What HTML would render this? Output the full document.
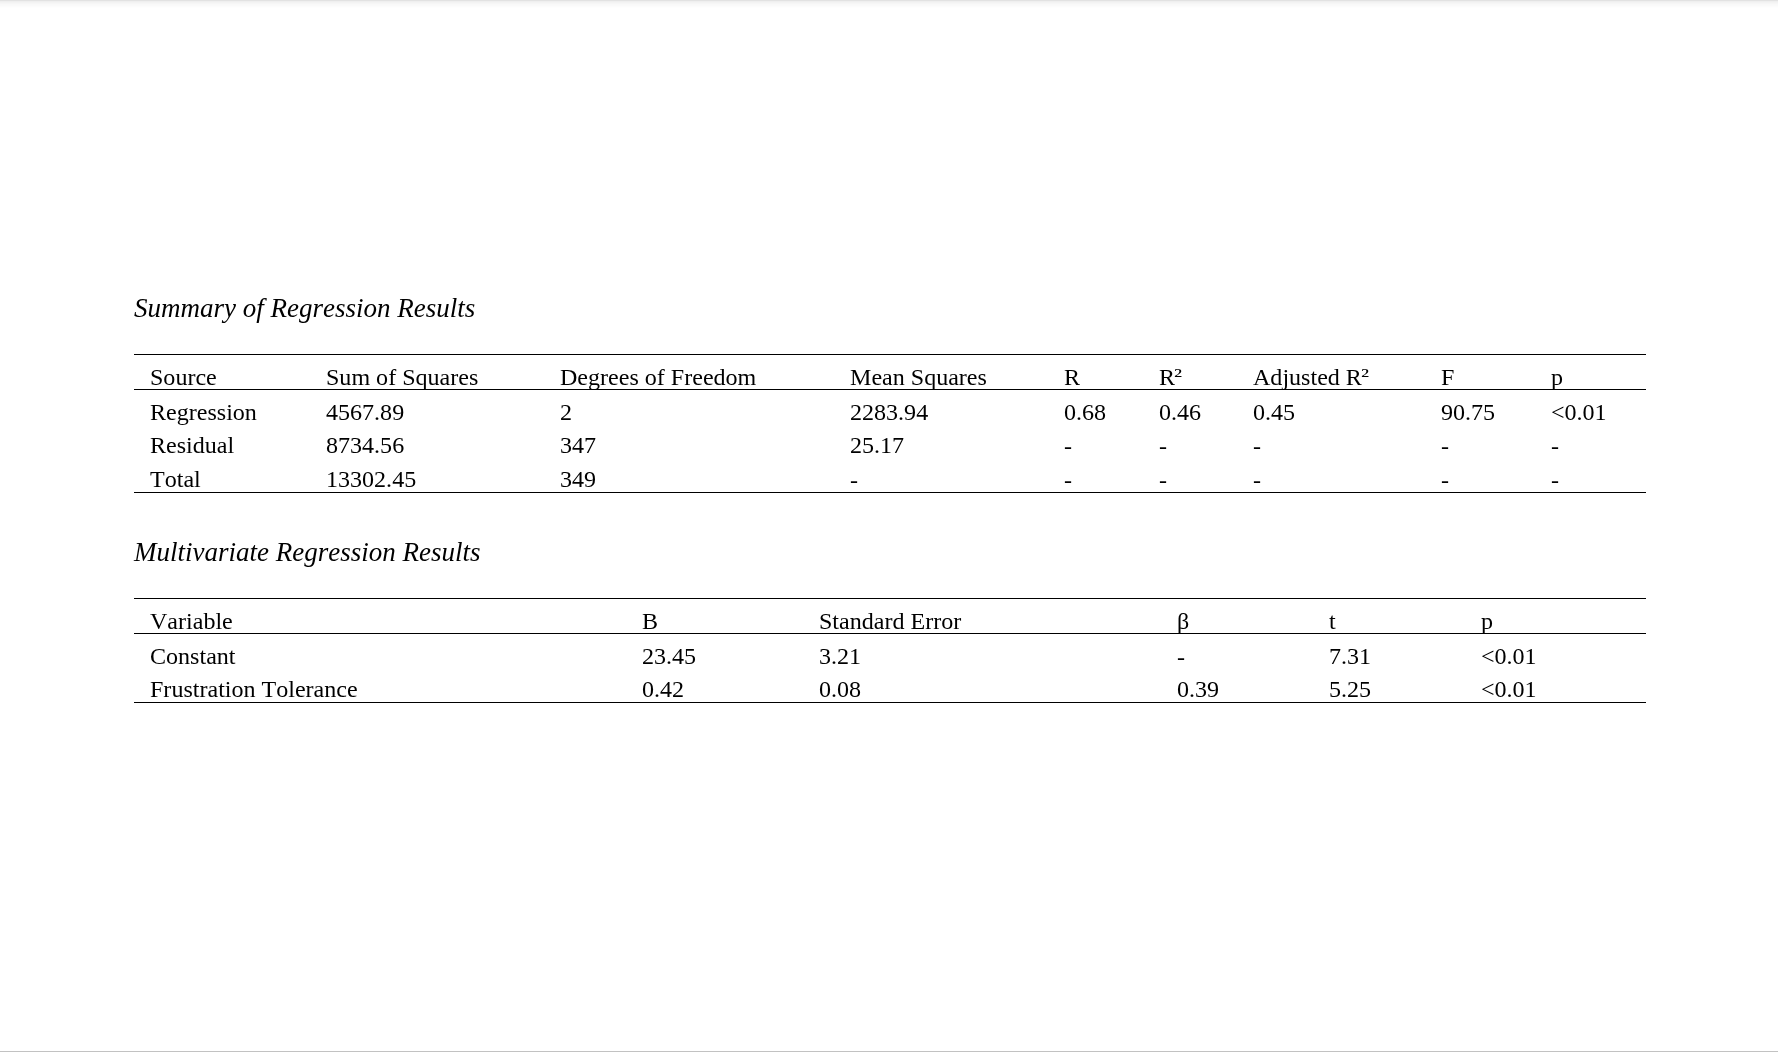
<!DOCTYPE html>
<html><head><meta charset="utf-8"><title>Regression Results</title>
<style>
html,body{margin:0;padding:0;background:#fff;}
body{width:1778px;height:1052px;position:relative;overflow:hidden;will-change:transform;font-family:"Liberation Serif",serif;color:#000;}
.t{position:absolute;white-space:pre;font-kerning:none;font-size:24.05px;line-height:30px;}
.i{font-style:italic;font-size:27px;}
.l{position:absolute;background:#000;}
.s2{display:inline-block;transform:translate(-1px,0) scale(1.12,0.8);transform-origin:0 6px;}
.r{position:absolute;left:0;width:1778px;height:1px;}
</style></head><body>
<div class="r" style="top:0;background:#e2e2e2"></div>
<div class="r" style="top:1px;background:#efefef"></div>
<div class="r" style="top:2px;background:#f3f3f3"></div>
<div class="r" style="top:3px;background:#f6f6f6"></div>
<div class="r" style="top:4px;background:#f9f9f9"></div>
<div class="r" style="top:5px;background:#fafafa"></div>
<div class="r" style="top:6px;background:#fcfcfc"></div>
<div class="r" style="top:7px;background:#fefefe"></div>

<div class="t i" style="left:134px;top:293px">Summary of Regression Results</div>
<div class="t" style="left:150px;top:362px">Source</div>
<div class="t" style="left:326px;top:362px">Sum of Squares</div>
<div class="t" style="left:560px;top:362px">Degrees of Freedom</div>
<div class="t" style="left:850px;top:362px">Mean Squares</div>
<div class="t" style="left:1064px;top:362px">R</div>
<div class="t" style="left:1159px;top:362px">R<span class=s2>²</span></div>
<div class="t" style="left:1253px;top:362px">Adjusted R<span class=s2>²</span></div>
<div class="t" style="left:1441px;top:362px">F</div>
<div class="t" style="left:1551px;top:362px">p</div>
<div class="t" style="left:150px;top:397px">Regression</div>
<div class="t" style="left:326px;top:397px">4567.89</div>
<div class="t" style="left:560px;top:397px">2</div>
<div class="t" style="left:850px;top:397px">2283.94</div>
<div class="t" style="left:1064px;top:397px">0.68</div>
<div class="t" style="left:1159px;top:397px">0.46</div>
<div class="t" style="left:1253px;top:397px">0.45</div>
<div class="t" style="left:1441px;top:397px">90.75</div>
<div class="t" style="left:1551px;top:397px">&lt;0.01</div>
<div class="t" style="left:150px;top:430px">Residual</div>
<div class="t" style="left:326px;top:430px">8734.56</div>
<div class="t" style="left:560px;top:430px">347</div>
<div class="t" style="left:850px;top:430px">25.17</div>
<div class="t" style="left:1064px;top:431px">-</div>
<div class="t" style="left:1159px;top:431px">-</div>
<div class="t" style="left:1253px;top:431px">-</div>
<div class="t" style="left:1441px;top:431px">-</div>
<div class="t" style="left:1551px;top:431px">-</div>
<div class="t" style="left:150px;top:464px">Total</div>
<div class="t" style="left:326px;top:464px">13302.45</div>
<div class="t" style="left:560px;top:464px">349</div>
<div class="t" style="left:850px;top:465px">-</div>
<div class="t" style="left:1064px;top:465px">-</div>
<div class="t" style="left:1159px;top:465px">-</div>
<div class="t" style="left:1253px;top:465px">-</div>
<div class="t" style="left:1441px;top:465px">-</div>
<div class="t" style="left:1551px;top:465px">-</div>
<div class="t i" style="left:134px;top:537px">Multivariate Regression Results</div>
<div class="t" style="left:150px;top:606px">Variable</div>
<div class="t" style="left:642px;top:606px">B</div>
<div class="t" style="left:819px;top:606px">Standard Error</div>
<div class="t" style="left:1177px;top:606px">β</div>
<div class="t" style="left:1329px;top:606px">t</div>
<div class="t" style="left:1481px;top:606px">p</div>
<div class="t" style="left:150px;top:641px">Constant</div>
<div class="t" style="left:642px;top:641px">23.45</div>
<div class="t" style="left:819px;top:641px">3.21</div>
<div class="t" style="left:1177px;top:642px">-</div>
<div class="t" style="left:1329px;top:641px">7.31</div>
<div class="t" style="left:1481px;top:641px">&lt;0.01</div>
<div class="t" style="left:150px;top:674px">Frustration Tolerance</div>
<div class="t" style="left:642px;top:674px">0.42</div>
<div class="t" style="left:819px;top:674px">0.08</div>
<div class="t" style="left:1177px;top:674px">0.39</div>
<div class="t" style="left:1329px;top:674px">5.25</div>
<div class="t" style="left:1481px;top:674px">&lt;0.01</div>
<div class="l" style="left:134px;top:354px;width:1512px;height:1px"></div>
<div class="l" style="left:134px;top:389px;width:1512px;height:1px"></div>
<div class="l" style="left:134px;top:492px;width:1512px;height:1px"></div>
<div class="l" style="left:134px;top:598px;width:1512px;height:1px"></div>
<div class="l" style="left:134px;top:633px;width:1512px;height:1px"></div>
<div class="l" style="left:134px;top:702px;width:1512px;height:1px"></div>
<div class="r" style="top:1051px;background:#c2c2c2"></div>
</body></html>
